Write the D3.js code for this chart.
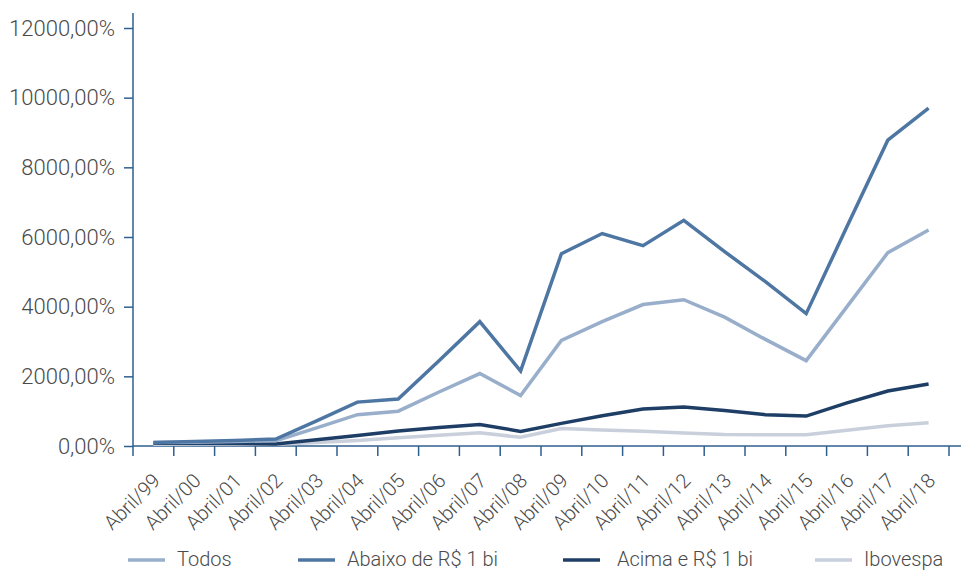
<!DOCTYPE html>
<html>
<head>
<meta charset="utf-8">
<script src="https://cdn.jsdelivr.net/npm/d3@7"></script>
<style>
  body { margin: 0; background: #fff; }
  text { font-family: Roboto, "Open Sans", sans-serif; font-weight: 300; fill: #4a4a4a; }
</style>
</head>
<body>
<svg id="chart" width="961" height="571"></svg>
<script>
// categorias e séries (valores em %)
const categories = ["Abril/99", "Abril/00", "Abril/01", "Abril/02", "Abril/03", "Abril/04", "Abril/05",
  "Abril/06", "Abril/07", "Abril/08", "Abril/09", "Abril/10", "Abril/11", "Abril/12", "Abril/13",
  "Abril/14", "Abril/15", "Abril/16", "Abril/17", "Abril/18"];

const todos    = [100, 110, 130, 150, 520, 900, 1000, 1550, 2080, 1450, 3030, 3570, 4060, 4200, 3700, 3060, 2450, 4000, 5550, 6200];
const abaixo   = [100, 130, 160, 200, 720, 1260, 1350, 2450, 3570, 2150, 5520, 6100, 5750, 6480, 5580, 4720, 3800, 6300, 8780, 9700];
const acima    = [80, 80, 70, 60, 180, 300, 430, 530, 620, 420, 650, 870, 1060, 1120, 1020, 900, 860, 1240, 1580, 1780];
const ibovespa = [50, 60, 50, 50, 100, 160, 240, 310, 380, 250, 500, 460, 420, 370, 330, 320, 320, 450, 580, 670];

const yTicks = [0, 2000, 4000, 6000, 8000, 10000, 12000];

const series = [
  { name: "Todos", values: todos, color: "#98aecb" },
  { name: "Abaixo de R$ 1 bi", values: abaixo, color: "#4e76a3" },
  { name: "Acima e R$ 1 bi", values: acima, color: "#1e3e66" },
  { name: "Ibovespa", values: ibovespa, color: "#c9d0dc" }
];

const svg = d3.select("#chart");
const axisColor = "#2f5f8f";

const x = d3.scaleBand().domain(categories).range([133, 949]);
const y = d3.scaleLinear().domain([0, 12000]).range([446, 28]);

// eixo y
const yAxis = svg.append("g")
  .attr("transform", "translate(133,0)")
  .call(d3.axisLeft(y).tickValues(yTicks).tickSize(9).tickPadding(9)
    .tickFormat(d => d.toFixed(2).replace(".", ",") + "%"));
yAxis.select(".domain").remove();
yAxis.selectAll(".tick line").attr("stroke", axisColor).attr("stroke-width", 1.5);
yAxis.selectAll("text").style("font-size", "22px").attr("fill", "#4a4a4a");
svg.append("line")
  .attr("x1", 133).attr("x2", 133).attr("y1", 13).attr("y2", 446)
  .attr("stroke", axisColor).attr("stroke-width", 1.5);

// eixo x
const xAxis = svg.append("g")
  .attr("transform", "translate(0,446)")
  .call(d3.axisBottom(x).tickSize(0));
xAxis.select(".domain").remove();
xAxis.selectAll("text")
  .style("font-size", "20px")
  .attr("fill", "#4a4a4a")
  .attr("text-anchor", "end")
  .attr("dy", null)
  .attr("y", 0)
  .attr("transform", "translate(8,36) rotate(-45)");

const bounds = categories.map(c => x(c)).concat([x.range()[1]]);
svg.append("g").selectAll("line")
  .data(bounds)
  .join("line")
  .attr("x1", d => d).attr("x2", d => d)
  .attr("y1", 446).attr("y2", 456)
  .attr("stroke", axisColor).attr("stroke-width", 1.5);
svg.append("line")
  .attr("x1", 133).attr("x2", 961).attr("y1", 446).attr("y2", 446)
  .attr("stroke", axisColor).attr("stroke-width", 1.5);

// linhas
const line = d3.line()
  .x((d, i) => x(categories[i]) + x.bandwidth() / 2)
  .y(d => y(d));

const drawOrder = [series[3], series[2], series[0], series[1]];
svg.append("g").selectAll("path")
  .data(drawOrder)
  .join("path")
  .attr("d", d => line(d.values))
  .attr("fill", "none")
  .attr("stroke", d => d.color)
  .attr("stroke-width", 3.5)
  .attr("stroke-linejoin", "miter");

// legenda
const legendX = [128, 298, 563, 815];
const legend = svg.append("g").selectAll("g")
  .data(series)
  .join("g")
  .attr("transform", (d, i) => `translate(${legendX[i]},560)`);
legend.append("line")
  .attr("x1", 0).attr("x2", 37)
  .attr("stroke", d => d.color).attr("stroke-width", 3.5);
legend.append("text")
  .attr("x", (d, i) => i === 2 ? 54 : 49)
  .attr("y", 6)
  .style("font-size", "20px")
  .text(d => d.name);
</script>
</body>
</html>
